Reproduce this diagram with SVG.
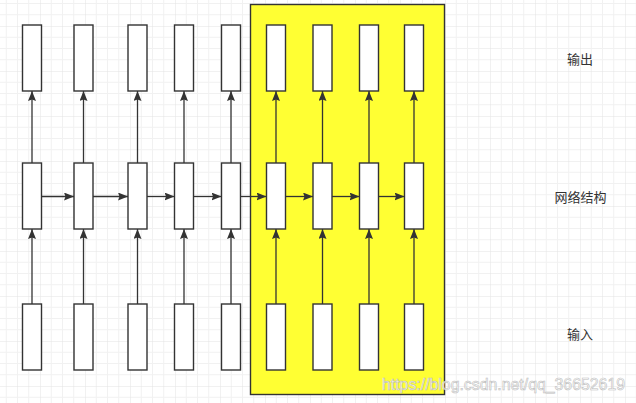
<svg xmlns="http://www.w3.org/2000/svg" width="636" height="403" viewBox="0 0 636 403">
  <style>
    .cell { fill: #ffffff; stroke: #333333; stroke-width: 1.4; }
    .conn { stroke: #333333; stroke-width: 1.3; fill: none; marker-end: url(#arrow); }
    .label { font-family: "Noto Sans CJK SC", "Liberation Sans", sans-serif; font-size: 13px; fill: #333333; text-anchor: middle; }
    .wm { font-family: "Liberation Sans", Arial, sans-serif; font-size: 16px; fill: #ffffff; fill-opacity: 0.85; stroke: #bdbdbd; stroke-width: 0.6; }
  </style>
  <defs>
    <pattern id="grid" patternUnits="userSpaceOnUse" x="40" y="26" width="45" height="45">
      <g stroke="#f1f1f1" stroke-width="1">
        <line x1="11.25" y1="0" x2="11.25" y2="45"/>
        <line x1="22.5" y1="0" x2="22.5" y2="45"/>
        <line x1="33.75" y1="0" x2="33.75" y2="45"/>
        <line x1="0" y1="11.25" x2="45" y2="11.25"/>
        <line x1="0" y1="22.5" x2="45" y2="22.5"/>
        <line x1="0" y1="33.75" x2="45" y2="33.75"/>
      </g>
      <g stroke="#e3e3e3" stroke-width="1">
        <line x1="0" y1="0" x2="0" y2="45"/>
        <line x1="0" y1="0" x2="45" y2="0"/>
      </g>
    </pattern>
    <marker id="arrow" viewBox="0 0 10 8" refX="10" refY="4" markerWidth="10" markerHeight="8" markerUnits="userSpaceOnUse" orient="auto">
      <path d="M0,0 L10,4 L0,8 L1.5,4 z" fill="#333333"/>
    </marker>
  </defs>
  <rect x="0" y="0" width="636" height="403" fill="#ffffff"/>
  <rect x="0" y="0" width="636" height="403" fill="url(#grid)"/>

  <g id="region">
    <rect x="250.5" y="4.5" width="194" height="390" fill="#ffff33" stroke="#333333" stroke-width="1.4"/>
  </g>

  <g id="out1"><rect class="cell" x="22.5" y="25" width="19" height="66"/></g>
  <g id="out2"><rect class="cell" x="74" y="25" width="19" height="66"/></g>
  <g id="out3"><rect class="cell" x="128" y="25" width="19" height="66"/></g>
  <g id="out4"><rect class="cell" x="174.5" y="25" width="19" height="66"/></g>
  <g id="out5"><rect class="cell" x="221.5" y="25" width="19" height="66"/></g>
  <g id="out6"><rect class="cell" x="266.5" y="25" width="19" height="66"/></g>
  <g id="out7"><rect class="cell" x="313" y="25" width="19" height="66"/></g>
  <g id="out8"><rect class="cell" x="359.5" y="25" width="19" height="66"/></g>
  <g id="out9"><rect class="cell" x="404.5" y="25" width="19" height="66"/></g>

  <g id="net1"><rect class="cell" x="22.5" y="163" width="19" height="66"/></g>
  <g id="net2"><rect class="cell" x="74" y="163" width="19" height="66"/></g>
  <g id="net3"><rect class="cell" x="128" y="163" width="19" height="66"/></g>
  <g id="net4"><rect class="cell" x="174.5" y="163" width="19" height="66"/></g>
  <g id="net5"><rect class="cell" x="221.5" y="163" width="19" height="66"/></g>
  <g id="net6"><rect class="cell" x="266.5" y="163" width="19" height="66"/></g>
  <g id="net7"><rect class="cell" x="313" y="163" width="19" height="66"/></g>
  <g id="net8"><rect class="cell" x="359.5" y="163" width="19" height="66"/></g>
  <g id="net9"><rect class="cell" x="404.5" y="163" width="19" height="66"/></g>

  <g id="in1"><rect class="cell" x="22.5" y="304" width="19" height="66"/></g>
  <g id="in2"><rect class="cell" x="74" y="304" width="19" height="66"/></g>
  <g id="in3"><rect class="cell" x="128" y="304" width="19" height="66"/></g>
  <g id="in4"><rect class="cell" x="174.5" y="304" width="19" height="66"/></g>
  <g id="in5"><rect class="cell" x="221.5" y="304" width="19" height="66"/></g>
  <g id="in6"><rect class="cell" x="266.5" y="304" width="19" height="66"/></g>
  <g id="in7"><rect class="cell" x="313" y="304" width="19" height="66"/></g>
  <g id="in8"><rect class="cell" x="359.5" y="304" width="19" height="66"/></g>
  <g id="in9"><rect class="cell" x="404.5" y="304" width="19" height="66"/></g>

  <g id="connectors">
    <!-- input to network -->
    <line class="conn" x1="32" y1="304" x2="32" y2="229"/>
    <line class="conn" x1="83.5" y1="304" x2="83.5" y2="229"/>
    <line class="conn" x1="137.5" y1="304" x2="137.5" y2="229"/>
    <line class="conn" x1="184" y1="304" x2="184" y2="229"/>
    <line class="conn" x1="231" y1="304" x2="231" y2="229"/>
    <line class="conn" x1="276" y1="304" x2="276" y2="229"/>
    <line class="conn" x1="322.5" y1="304" x2="322.5" y2="229"/>
    <line class="conn" x1="369" y1="304" x2="369" y2="229"/>
    <line class="conn" x1="414" y1="304" x2="414" y2="229"/>
    <!-- network to output -->
    <line class="conn" x1="32" y1="163" x2="32" y2="91"/>
    <line class="conn" x1="83.5" y1="163" x2="83.5" y2="91"/>
    <line class="conn" x1="137.5" y1="163" x2="137.5" y2="91"/>
    <line class="conn" x1="184" y1="163" x2="184" y2="91"/>
    <line class="conn" x1="231" y1="163" x2="231" y2="91"/>
    <line class="conn" x1="276" y1="163" x2="276" y2="91"/>
    <line class="conn" x1="322.5" y1="163" x2="322.5" y2="91"/>
    <line class="conn" x1="369" y1="163" x2="369" y2="91"/>
    <line class="conn" x1="414" y1="163" x2="414" y2="91"/>
    <!-- recurrent links -->
    <line class="conn" x1="41.5" y1="196.5" x2="74" y2="196.5"/>
    <line class="conn" x1="93" y1="196.5" x2="128" y2="196.5"/>
    <line class="conn" x1="147" y1="196.5" x2="174.5" y2="196.5"/>
    <line class="conn" x1="193.5" y1="196.5" x2="221.5" y2="196.5"/>
    <line class="conn" x1="240.5" y1="196.5" x2="266.5" y2="196.5"/>
    <line class="conn" x1="285.5" y1="196.5" x2="313" y2="196.5"/>
    <line class="conn" x1="332" y1="196.5" x2="359.5" y2="196.5"/>
    <line class="conn" x1="378.5" y1="196.5" x2="404.5" y2="196.5"/>
  </g>

  <g id="label-output"><text class="label" x="580" y="64">输出</text></g>
  <g id="label-network"><text class="label" x="580.5" y="202">网络结构</text></g>
  <g id="label-input"><text class="label" x="580" y="339">输入</text></g>

  <text class="wm" x="382" y="390" textLength="243" lengthAdjust="spacingAndGlyphs">https://blog.csdn.net/qq_36652619</text>
</svg>
